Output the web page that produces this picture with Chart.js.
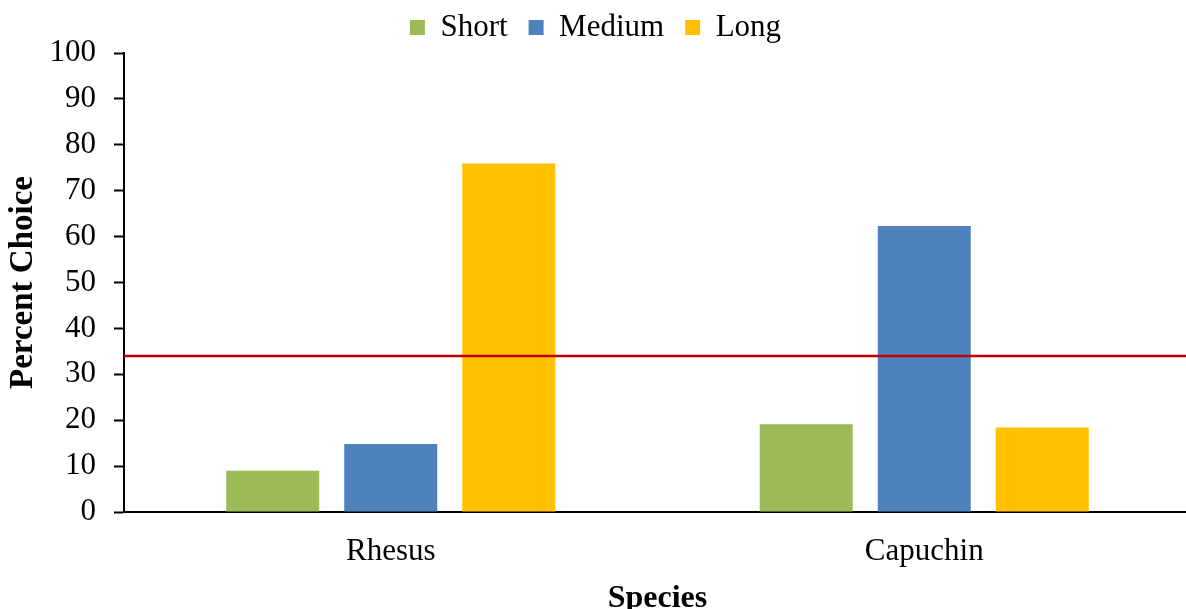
<!DOCTYPE html>
<html>
<head>
<meta charset="utf-8">
<script src="https://cdn.jsdelivr.net/npm/chart.js@4/dist/chart.umd.min.js"></script>
<style>
  html, body { margin: 0; padding: 0; background: #fff; overflow: hidden; }
  #wrap { width: 1191px; height: 629px; margin-top: -9px; }
</style>
</head>
<body>
<div id="wrap"><canvas id="chart" width="1191" height="629"></canvas></div>
<script>
// Species on the x axis, one bar per delay option
const species = ['Rhesus', 'Capuchin'];
const shortChoice = [9.0, 19.1];
const mediumChoice = [14.8, 62.3];
const longChoice = [75.9, 18.4];
// Chance level (one of three options), drawn as a red reference line
const chanceLevel = 34;
const yTicks = [0, 10, 20, 30, 40, 50, 60, 70, 80, 90, 100];

const FONT = '"Liberation Serif", "Times New Roman", serif';

const chanceLine = {
  id: 'chanceLine',
  afterDatasetsDraw(chart) {
    const { ctx, chartArea, scales } = chart;
    const y = scales.y.getPixelForValue(chanceLevel);
    ctx.save();
    ctx.strokeStyle = '#C00000';
    ctx.lineWidth = 2.5;
    ctx.beginPath();
    ctx.moveTo(chartArea.left, y);
    ctx.lineTo(chartArea.right, y);
    ctx.stroke();
    ctx.restore();
  }
};

new Chart(document.getElementById('chart'), {
  type: 'bar',
  data: {
    labels: species,
    datasets: [
      { label: 'Short', data: shortChoice, backgroundColor: '#9BBB59' },
      { label: 'Medium', data: mediumChoice, backgroundColor: '#4F81BD' },
      { label: 'Long', data: longChoice, backgroundColor: '#FFC000' }
    ]
  },
  options: {
    responsive: false,
    animation: false,
    devicePixelRatio: 1,
    layout: { padding: { top: 0, left: 0, right: 0, bottom: 0 } },
    datasets: {
      bar: { categoryPercentage: 0.6636, barPercentage: 0.788 }
    },
    plugins: {
      tooltip: { enabled: false },
      legend: {
        position: 'top',
        labels: {
          boxWidth: 15,
          boxHeight: 15,
          padding: 21,
          color: '#000',
          font: { family: FONT, size: 31 }
        }
      }
    },
    scales: {
      x: {
        grid: { display: false },
        border: { display: true, color: '#000', width: 2 },
        ticks: { color: '#000', padding: 13, font: { family: FONT, size: 31 } },
        title: {
          display: true,
          text: 'Species',
          color: '#000',
          font: { family: FONT, size: 32, weight: 'bold' },
          padding: { top: 0, bottom: 2 }
        },
        afterFit(scale) { scale.height = 108; }
      },
      y: {
        min: 0,
        max: 100,
        afterBuildTicks(scale) { scale.ticks = yTicks.map(v => ({ value: v })); },
        grid: {
          drawOnChartArea: false,
          drawTicks: true,
          tickLength: 10,
          tickWidth: 2,
          tickColor: '#000'
        },
        border: { display: true, color: '#000', width: 2 },
        ticks: { color: '#000', padding: 18, font: { family: FONT, size: 31 } },
        title: {
          display: true,
          text: 'Percent Choice',
          color: '#000',
          font: { family: FONT, size: 33, weight: 'bold' },
          padding: { top: 4, bottom: 0 }
        },
        afterFit(scale) { scale.width = 124; }
      }
    }
  },
  plugins: [chanceLine]
});
</script>
</body>
</html>
